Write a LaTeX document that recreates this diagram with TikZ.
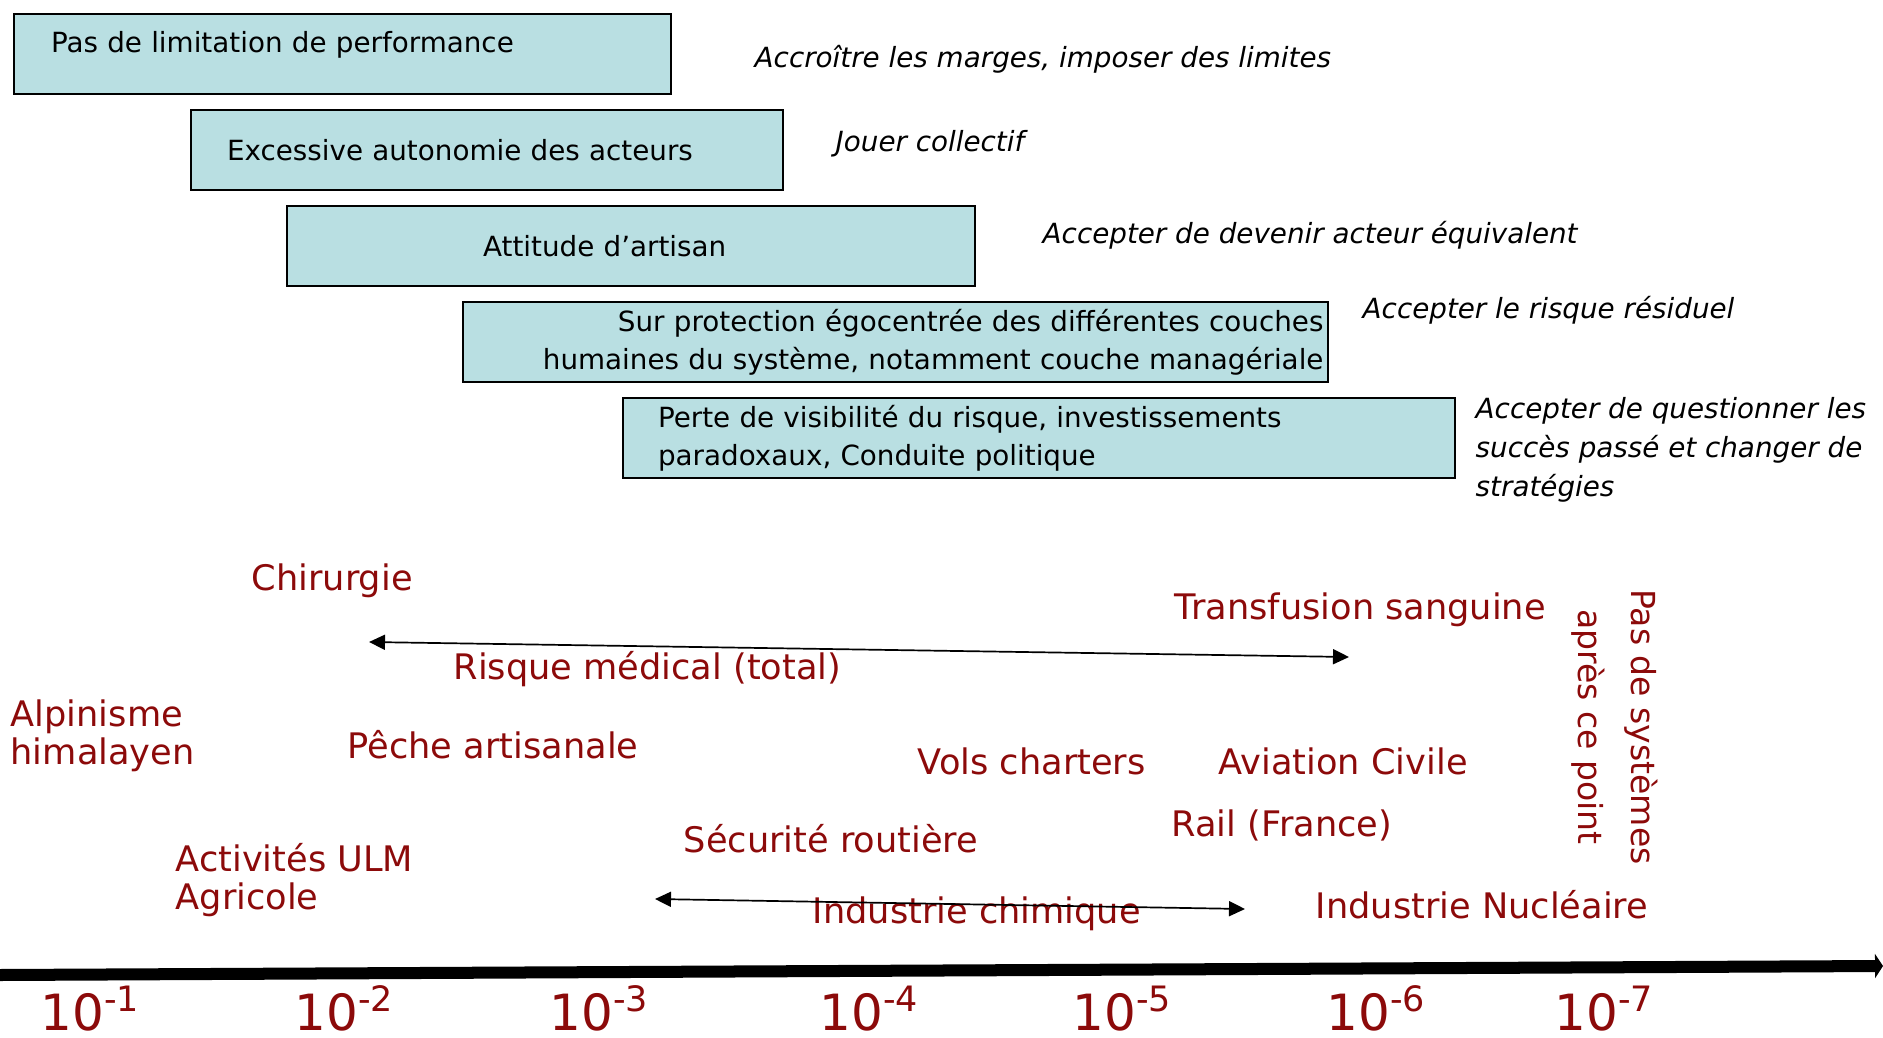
\documentclass[tikz,border=0pt]{standalone}
\usepackage{fontspec}
\setmainfont{DejaVu Sans}
\usepackage{tikz}
\usetikzlibrary{arrows.meta,positioning}
\definecolor{rteal}{HTML}{B9DFE2}
\definecolor{rred}{HTML}{8C0A0A}
\newcommand{\pw}[1]{10\textsuperscript{-#1}}

\begin{document}
\begin{tikzpicture}[x=0.01cm, y=-0.01cm,
 box/.style={draw=black, line width=0.02cm, fill=rteal, anchor=north west, minimum height=0.8cm, inner ysep=0pt, align=left, font=\fontsize{7.9}{10.7}\selectfont},
 remedy/.style={anchor=west, inner sep=0pt, align=left, font=\fontsize{7.9}{11}\selectfont\itshape},
 risk/.style={anchor=west, inner sep=0pt, align=left, text=rred, font=\fontsize{10}{10.8}\selectfont},
 span/.style={{Triangle[length=0.16cm,width=0.15cm]}-{Triangle[length=0.16cm,width=0.15cm]}, line width=0.017cm},
 tick/.style={anchor=base west, inner sep=0pt, text=rred, font=\fontsize{14.2}{16}\selectfont}]
 \useasboundingbox (0,0) rectangle (1883,1037);
 \node[box, inner xsep=0.37cm, text width=5.83cm, text depth=0.25cm] (perf) at (13,13) {Pas de limitation de performance};
 \node[box, inner xsep=0.36cm, text width=5.2cm] (autonomie) at (190,109) {Excessive autonomie des acteurs};
 \node[box, inner xsep=1.96cm, text width=2.96cm] (artisan) at (286,205) {Attitude d’artisan};
 \node[box, inner xsep=0.04cm, text width=8.56cm, align=right] (protection) at (462,301) {Sur protection égocentrée des différentes couches\\humaines du système, notamment couche managériale};
 \node[box, inner xsep=0.35cm, text width=7.61cm] (visibilite) at (622,397) {Perte de visibilité du risque, investissements\\paradoxaux, Conduite politique};
 \node[remedy] (marges) at (754,59) {Accroître les marges, imposer des limites};
 \node[remedy] (collectif) at (835,144) {Jouer collectif};
 \node[remedy] (equivalent) at (1042,235) {Accepter de devenir acteur équivalent};
 \node[remedy] (residuel) at (1362,310) {Accepter le risque résiduel};
 \node[remedy] (questionner) at (1475,450) {Accepter de questionner les\\succès passé et changer de\\stratégies};
 \node[risk] (chirurgie) at (251,581) {Chirurgie};
 \node[risk] (medical) at (453,669) {Risque médical (total)};
 \node[risk] (transfusion) at (1174,610) {Transfusion sanguine};
 \node[risk] (alpinisme) at (10,736) {Alpinisme\\himalayen};
 \node[risk] (peche) at (347,745) {Pêche artisanale};
 \node[risk] (charters) at (917,761) {Vols charters};
 \node[risk] (aviation) at (1218,761) {Aviation Civile};
 \node[risk] (rail) at (1171,825) {Rail (France)};
 \node[risk] (routiere) at (683,839) {Sécurité routière};
 \node[risk] (ulm) at (175,880) {Activités ULM\\Agricole};
 \node[risk] (chimique) at (812,914) {Industrie chimique};
 \node[risk] (nucleaire) at (1315,905) {Industrie Nucléaire};
 \node[risk, anchor=center, rotate=-90, align=center, font=\fontsize{9.4}{15}\selectfont] (nosys) at (1615,727) {Pas de systèmes\\après ce point};
 \coordinate (medlo) at (369,642);
 \coordinate (medhi) at (1349,657);
 \draw[span] (medlo) -- (medhi);
 \coordinate (chimlo) at (655,899);
 \coordinate (chimhi) at (1245,909);
 \draw[span] (chimlo) -- (chimhi);
 \coordinate (axlo) at (0,975);
 \coordinate (axhi) at (1883,966);
 \draw[line width=0.12cm, -{Triangle[length=0.08cm,width=0.24cm]}] (axlo) -- (axhi);
 \foreach \x/\e in {40/1,294/2,549/3,819/4,1072/5,1326/6,1554/7} \node[tick] (tick\e) at (\x,1030) {\pw{\e}};
\end{tikzpicture}
\end{document}
